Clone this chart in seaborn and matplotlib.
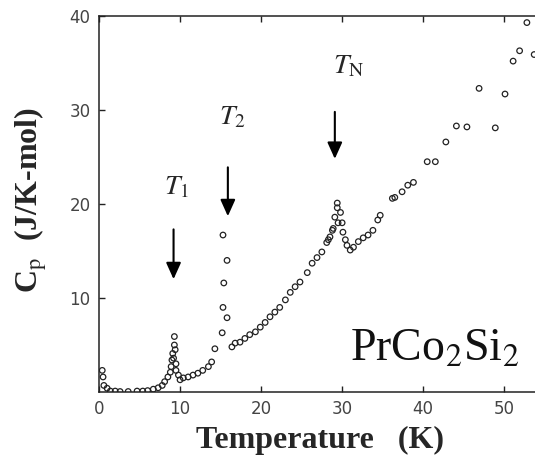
import matplotlib
matplotlib.use("Agg")
import matplotlib.pyplot as plt
import seaborn as sns
import pandas as pd

# Specific heat of PrCo2Si2 vs temperature
temperature = [0.4, 0.5, 0.6, 1.0, 1.4, 2.0, 2.6, 3.6, 4.7, 5.4, 6.0, 6.7, 7.3, 7.8,
               8.1, 8.5, 8.8, 8.9, 9.0, 9.1, 9.2, 9.3, 9.3, 9.4, 9.5, 9.5, 9.8, 10.0,
               10.4, 11.0, 11.6, 12.2, 12.8, 13.5, 13.9, 14.3, 15.2, 15.8, 15.3, 15.4,
               15.8, 15.3, 16.4, 16.8, 17.4, 18.0, 18.6, 19.3, 19.9, 20.5, 21.1, 21.7,
               22.3, 23.0, 23.6, 24.2, 24.8, 25.7, 26.3, 26.9, 27.5, 28.1, 28.3, 28.5,
               28.8, 28.9, 29.1, 29.4, 29.4, 29.5, 29.8, 30.0, 30.1, 30.4, 30.6, 31.0,
               31.4, 32.0, 32.6, 33.2, 33.8, 34.4, 34.7, 36.2, 36.5, 37.4, 38.1, 38.8,
               40.5, 41.5, 42.8, 44.1, 45.4, 46.9, 48.9, 50.1, 51.1, 51.9, 52.8, 53.7]
heat_capacity = [2.3, 1.6, 0.7, 0.4, 0.1, 0.1, 0.05, 0.05, 0.1, 0.1, 0.15, 0.3, 0.45, 0.7,
                 1.1, 1.6, 2.1, 2.7, 3.4, 4.1, 3.6, 5.0, 5.9, 4.5, 3.0, 2.3, 1.8, 1.3,
                 1.5, 1.6, 1.8, 2.0, 2.3, 2.7, 3.2, 4.6, 6.3, 7.9, 9.0, 11.6,
                 14.0, 16.7, 4.8, 5.2, 5.3, 5.7, 6.1, 6.4, 6.9, 7.4, 8.0, 8.5,
                 9.0, 9.8, 10.6, 11.2, 11.7, 12.7, 13.7, 14.3, 14.9, 15.9, 16.2, 16.5,
                 17.2, 17.4, 18.6, 19.6, 20.1, 18.0, 19.1, 18.0, 17.0, 16.2, 15.6, 15.1,
                 15.4, 16.0, 16.4, 16.7, 17.2, 18.3, 18.8, 20.6, 20.7, 21.3, 22.0, 22.3,
                 24.5, 24.5, 26.6, 28.3, 28.2, 32.3, 28.1, 31.7, 35.2, 36.3, 39.3, 35.9]

# Transition markers: label, temperature, arrow top/tip and label position
transitions = ["$T_1$", "$T_2$", "$T_\\mathrm{N}$"]
transition_T = [9.2, 15.9, 29.1]
arrow_top = [17.3, 23.9, 29.8]
arrow_tip = [12.0, 18.7, 24.8]
label_y = [21.7, 29.2, 34.6]
label_x = [9.6, 16.4, 30.8]

x_ticks = [0, 10, 20, 30, 40, 50]
y_ticks = [10, 20, 30, 40]

df = pd.DataFrame({"T": temperature, "Cp": heat_capacity})

sns.set_style("ticks")
plt.rcParams["mathtext.fontset"] = "stix"

fig = plt.figure(figsize=(5.35, 4.59), dpi=100)
ax = fig.add_axes([99 / 535, 1 - 392 / 459, 1 - 99 / 535, (392 - 16) / 459])

sns.scatterplot(data=df, x="T", y="Cp", ax=ax, marker="o", s=16,
                facecolor="none", edgecolor="#222222", linewidth=0.9)

ax.set_xlim(0, 53.8)
ax.set_ylim(0, 40)
ax.set_xticks(x_ticks)
ax.set_yticks(y_ticks)
ax.set_yticklabels([str(v) for v in y_ticks])

ax.spines["right"].set_visible(False)
for side in ("left", "top", "bottom"):
    ax.spines[side].set_linewidth(1.1)
    ax.spines[side].set_color("#222222")
ax.tick_params(direction="in", length=4, width=1, colors="#222222",
               labelcolor="#444444", labelsize=12, top=True, pad=6)
for lab in ax.get_xticklabels() + ax.get_yticklabels():
    lab.set_fontfamily("DejaVu Sans")

ax.set_xlabel("Temperature   (K)", fontsize=23, fontweight="bold",
              fontfamily="Liberation Serif")
ax.set_ylabel("C$_{\\mathrm{p}}$  (J/K-mol)", fontsize=23, fontweight="bold",
              fontfamily="Liberation Serif")
ax.xaxis.set_label_coords(0.507, -0.09)
ax.yaxis.set_label_coords(-0.115, 0.51)

for name, tx, top, tip, ly, lx in zip(transitions, transition_T, arrow_top,
                                      arrow_tip, label_y, label_x):
    ax.annotate("", xy=(tx, tip), xytext=(tx, top),
                arrowprops=dict(arrowstyle="-|>,head_width=0.45,head_length=1.0",
                                color="black", lw=1.5, shrinkA=0, shrinkB=0))
    ax.text(lx, ly, name, fontsize=20, ha="center", va="center",
            fontfamily="Liberation Serif")

ax.text(51.8, 3.4, "PrCo$_2$Si$_2$", fontsize=33, ha="right", va="baseline",
        fontfamily="Liberation Serif", color="#111111")

fig.savefig("out.png", dpi=100)
